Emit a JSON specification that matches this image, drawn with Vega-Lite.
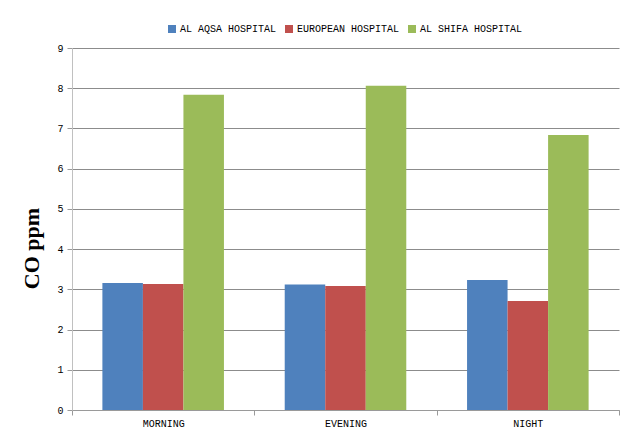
{
  "$schema": "https://vega.github.io/schema/vega-lite/v6.json",
  "width": 547,
  "height": 362,
  "autosize": {"type": "none"},
  "padding": {"left": 72, "top": 48, "right": 17, "bottom": 31},
  "background": "white",
  "data": {
    "values": [
      {"time": "MORNING", "hospital": "AL AQSA HOSPITAL", "co": 3.16},
      {"time": "MORNING", "hospital": "EUROPEAN HOSPITAL", "co": 3.13},
      {"time": "MORNING", "hospital": "AL SHIFA HOSPITAL", "co": 7.84},
      {"time": "EVENING", "hospital": "AL AQSA HOSPITAL", "co": 3.12},
      {"time": "EVENING", "hospital": "EUROPEAN HOSPITAL", "co": 3.08},
      {"time": "EVENING", "hospital": "AL SHIFA HOSPITAL", "co": 8.06},
      {"time": "NIGHT", "hospital": "AL AQSA HOSPITAL", "co": 3.23},
      {"time": "NIGHT", "hospital": "EUROPEAN HOSPITAL", "co": 2.71},
      {"time": "NIGHT", "hospital": "AL SHIFA HOSPITAL", "co": 6.84}
    ]
  },
  "mark": {"type": "bar"},
  "encoding": {
    "x": {
      "field": "time",
      "type": "nominal",
      "sort": ["MORNING", "EVENING", "NIGHT"],
      "scale": {"paddingInner": 0, "paddingOuter": 0},
      "axis": {
        "title": null,
        "labelAngle": 0,
        "tickBand": "extent",
        "domainColor": "#9a9a9a",
        "tickColor": "#9a9a9a",
        "tickSize": 5,
        "labelFont": "Liberation Mono",
        "labelFontSize": 10,
        "labelColor": "#000000",
        "labelPadding": 3,
        "grid": false
      }
    },
    "xOffset": {
      "field": "hospital",
      "type": "nominal",
      "sort": ["AL AQSA HOSPITAL", "EUROPEAN HOSPITAL", "AL SHIFA HOSPITAL"],
      "scale": {"paddingInner": 0, "paddingOuter": 0.75}
    },
    "y": {
      "field": "co",
      "type": "quantitative",
      "scale": {"domain": [0, 9], "nice": false},
      "axis": {
        "title": "CO ppm",
        "values": [0, 1, 2, 3, 4, 5, 6, 7, 8, 9],
        "grid": true,
        "gridColor": "#8c8c8c",
        "gridWidth": 1,
        "domainColor": "#c0c0c0",
        "tickColor": "#9a9a9a",
        "tickSize": 5,
        "labelFont": "Liberation Mono",
        "labelFontSize": 10,
        "labelColor": "#000000",
        "labelPadding": 4,
        "titleFont": "Liberation Serif",
        "titleFontSize": 22,
        "titleFontWeight": "bold",
        "titleColor": "#000000",
        "titleAngle": -90,
        "titleAlign": "center",
        "titleBaseline": "middle",
        "titleX": -41,
        "titleY": 200
      }
    },
    "color": {
      "field": "hospital",
      "type": "nominal",
      "scale": {
        "domain": ["AL AQSA HOSPITAL", "EUROPEAN HOSPITAL", "AL SHIFA HOSPITAL"],
        "range": ["#4F81BD", "#C0504D", "#9BBB59"]
      },
      "legend": {
        "title": null,
        "orient": "none",
        "direction": "horizontal",
        "legendX": 95,
        "legendY": -24,
        "symbolType": "square",
        "symbolSize": 64,
        "symbolStrokeWidth": 0,
        "symbolOpacity": 1,
        "labelFont": "Liberation Mono",
        "labelFontSize": 10,
        "labelColor": "#000000",
        "labelOffset": 3,
        "columnPadding": 7
      }
    }
  },
  "config": {"view": {"stroke": null}}
}
